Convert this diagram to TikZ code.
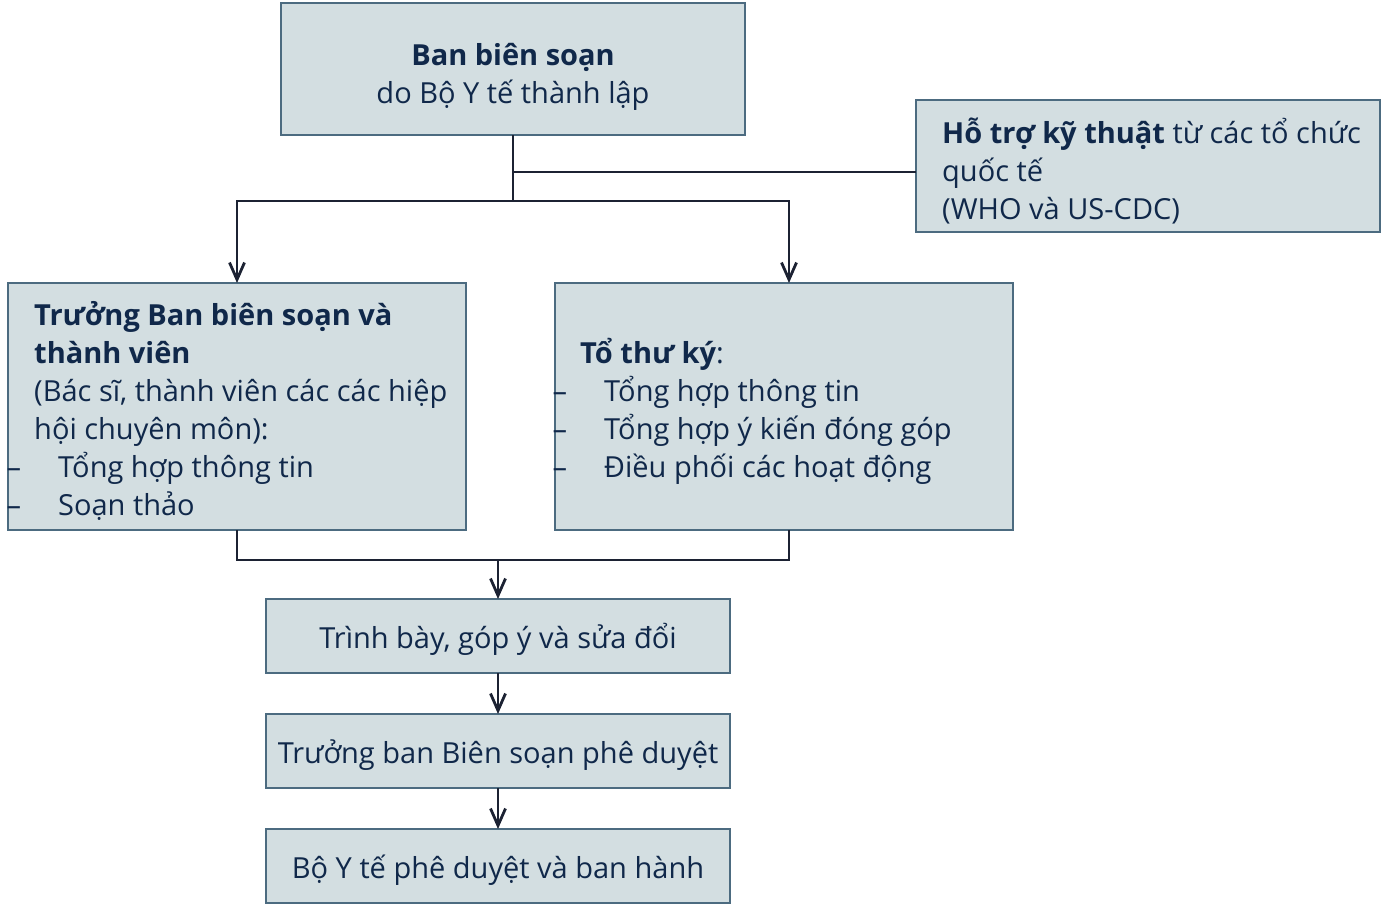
\documentclass[tikz,border=0pt]{standalone}
\usepackage{fontspec}
\setmainfont{Open Sans}
\usetikzlibrary{arrows.meta,calc}
\definecolor{boxfill}{HTML}{D3DEE1}
\definecolor{boxline}{HTML}{4C6B80}
\definecolor{txtc}{HTML}{10284A}
\definecolor{connc}{HTML}{1C2233}
\begin{document}
\begin{tikzpicture}[x=1pt,y=-1pt,
  box/.style={draw=boxline, fill=boxfill, line width=2.4pt, inner sep=0pt, outer sep=0pt, anchor=north west,
    text=txtc, font=\fontsize{29}{38}\selectfont, align=center},
  conn/.style={draw=connc, line width=2.6pt},
  arr/.style={conn, -{Straight Barb[length=17pt,width=15pt,line width=2.8pt]}},
  txt/.style={text=txtc, font=\fontsize{29}{38}\selectfont, inner sep=0pt, align=left, anchor=west}
]
\useasboundingbox (0,0) rectangle (1382,905);
\newcommand{\dashitem}[1]{\llap{–\hspace{13pt}}\hspace{24pt}#1}
\newcommand{\lowered}[1]{\raisebox{-12pt}[0pt][0pt]{#1}}

\node[box, minimum width=464pt, minimum height=132pt] (top) at (281,3) {};
\node[txt, align=center, anchor=center] (toptxt) at (513,77)
  {\textbf{Ban biên soạn}\\do Bộ Y tế thành lập};
\node[box, minimum width=464pt, minimum height=132pt] (right) at (916,100) {};
\node[txt] (righttxt) at (942,171)
  {\textbf{Hỗ trợ kỹ thuật} từ các tổ chức\\quốc tế\\(WHO và US-CDC)};

\node[box, minimum width=458pt, minimum height=247pt] (left) at (8,283) {};
\node[txt] (lefttxt) at (34,411)
  {\textbf{Trưởng Ban biên soạn và}\\\textbf{thành viên}\\(Bác sĩ, thành viên các các hiệp\\hội chuyên môn):\\
   \dashitem{Tổng hợp thông tin}\\\dashitem{Soạn thảo}};

\node[box, minimum width=458pt, minimum height=247pt] (mid) at (555,283) {};
\node[txt] (midtxt) at (580,411)
  {\textbf{Tổ thư ký}:\\\dashitem{Tổng hợp thông tin}\\\dashitem{Tổng hợp ý kiến đóng góp}\\\dashitem{Điều phối các hoạt động}};

\node[box, minimum width=464pt, minimum height=74pt] (b3) at (266,599) {\lowered{Trình bày, góp ý và sửa đổi}};
\node[box, minimum width=464pt, minimum height=74pt] (b4) at (266,714) {\lowered{Trưởng ban Biên soạn phê duyệt}};
\node[box, minimum width=464pt, minimum height=74pt] (b5) at (266,829) {\lowered{Bộ Y tế phê duyệt và ban hành}};

\coordinate (split) at (513,201);
\coordinate (rj) at (916,172);
\coordinate (join) at (498,560);

\draw[conn] (top.south) -- (split);
\draw[conn] (top.south |- rj) -- (rj);
\draw[arr] (split) -| (left.north);
\draw[arr] (split) -| ([xshift=5pt]mid.north);
\draw[conn] (left.south) |- (join);
\draw[conn] ([xshift=5pt]mid.south) |- (join);
\draw[arr] (join) -- (b3.north);
\draw[arr] (b3.south) -- (b4.north);
\draw[arr] (b4.south) -- (b5.north);
\end{tikzpicture}
\end{document}
